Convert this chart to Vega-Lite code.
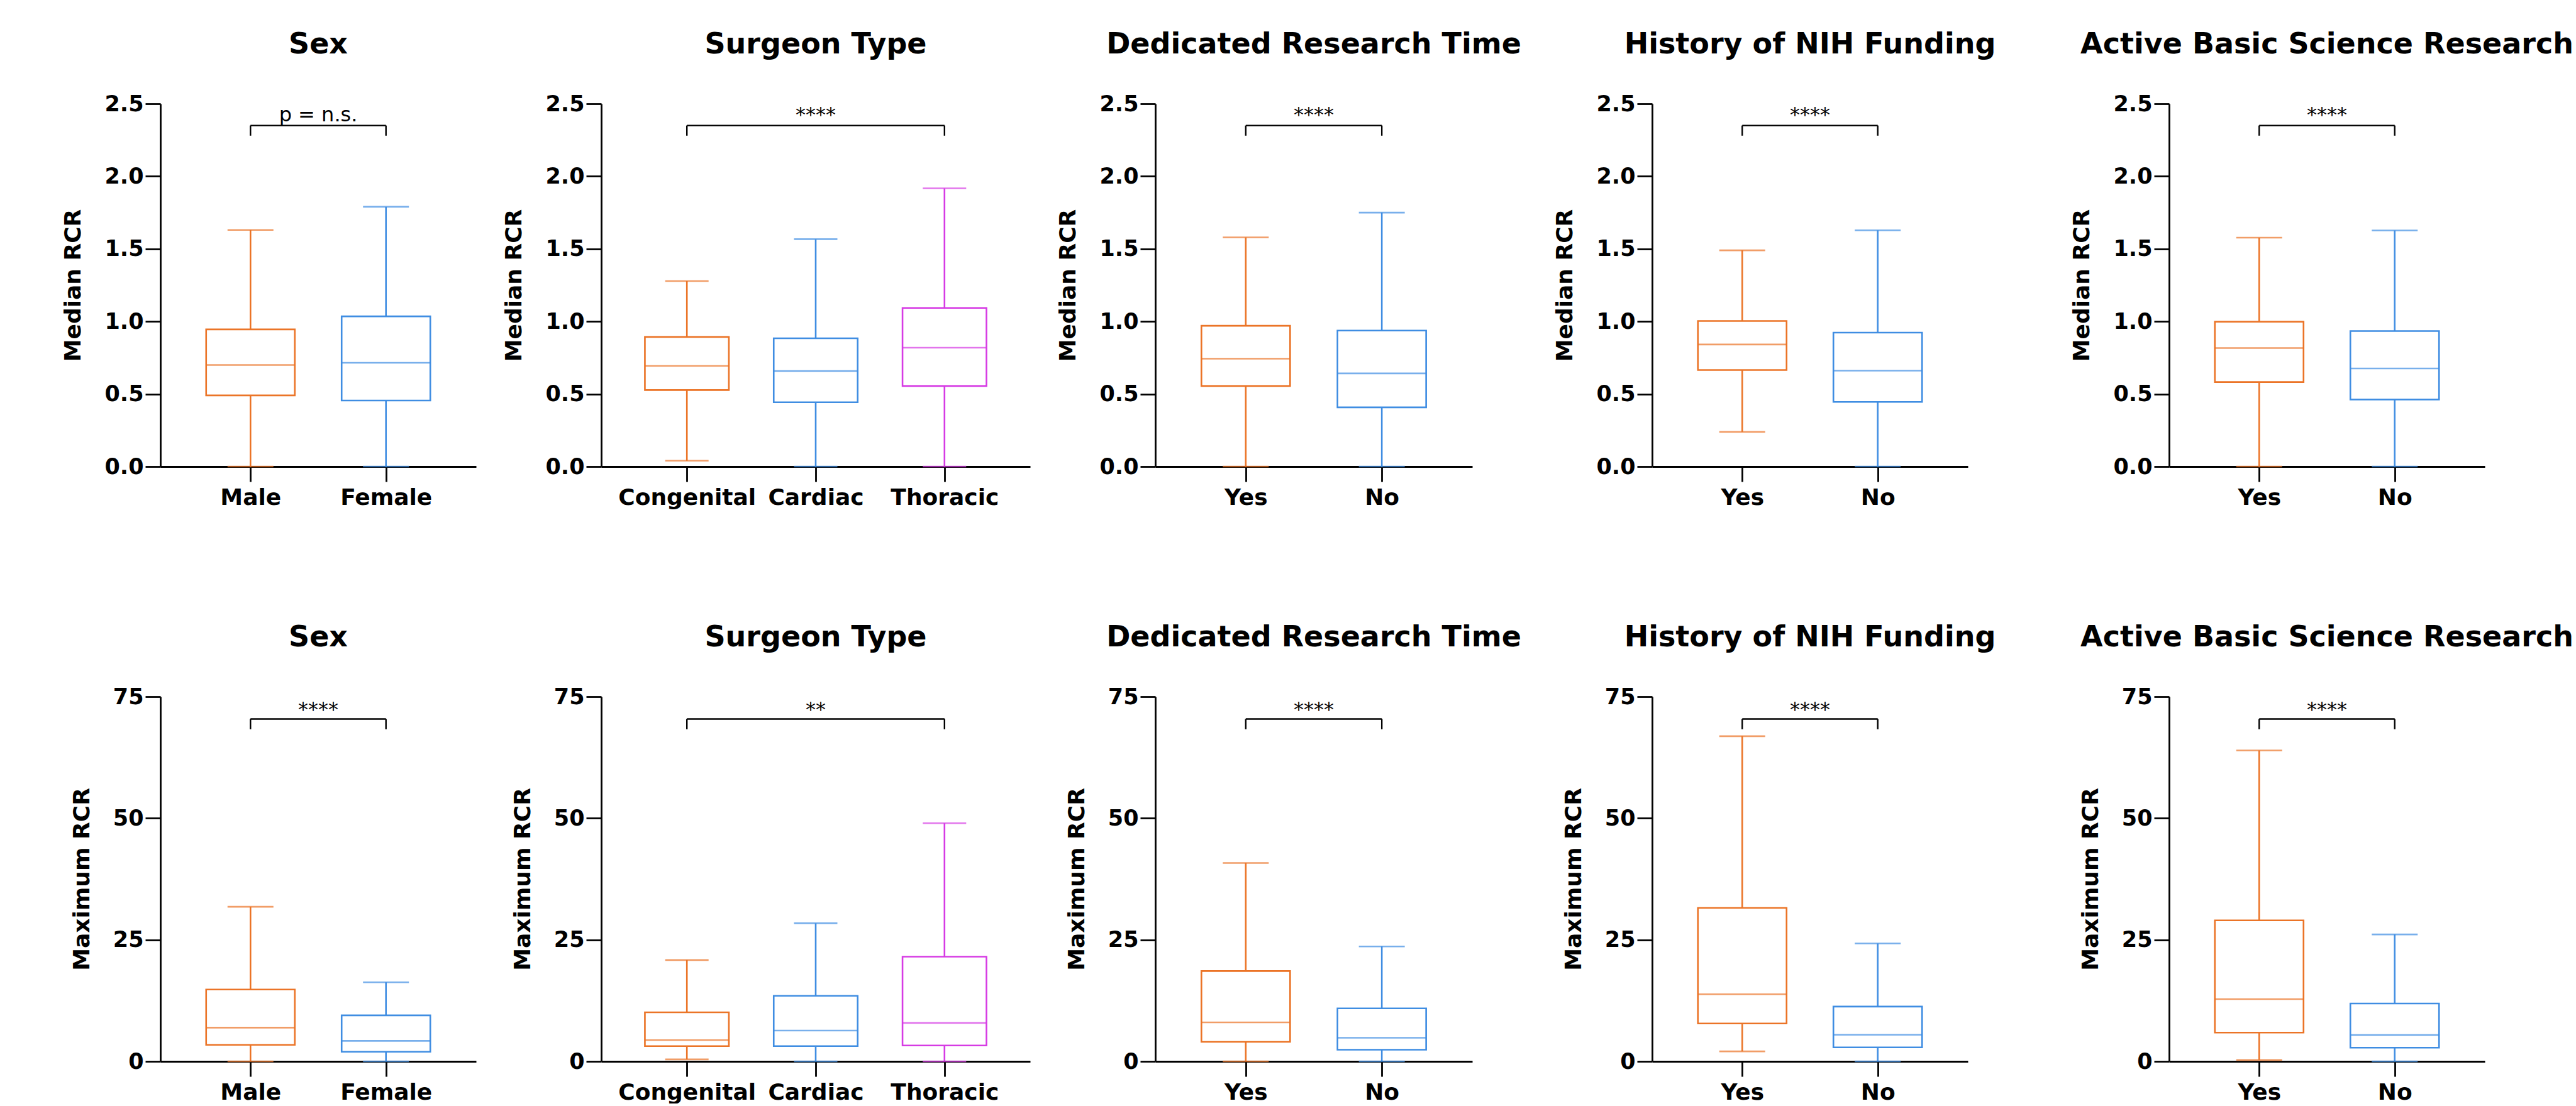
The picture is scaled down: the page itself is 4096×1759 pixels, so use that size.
{
"$schema": "https://vega.github.io/schema/vega-lite/v6.json",
"padding": {"left": 98, "top": 48, "right": 0, "bottom": 0},
"background": "white",
"datasets": {
"boxes": [
{"metric":"Median RCR","panel":"Sex","group":"Male","min":0,"q1":0.49,"med":0.70,"q3":0.945,"max":1.63},
{"metric":"Median RCR","panel":"Sex","group":"Female","min":0,"q1":0.455,"med":0.715,"q3":1.035,"max":1.79},
{"metric":"Median RCR","panel":"Surgeon Type","group":"Congenital","min":0.04,"q1":0.527,"med":0.693,"q3":0.893,"max":1.278},
{"metric":"Median RCR","panel":"Surgeon Type","group":"Cardiac","min":0,"q1":0.443,"med":0.658,"q3":0.884,"max":1.567},
{"metric":"Median RCR","panel":"Surgeon Type","group":"Thoracic","min":0,"q1":0.555,"med":0.819,"q3":1.093,"max":1.917},
{"metric":"Median RCR","panel":"Dedicated Research Time","group":"Yes","min":0,"q1":0.555,"med":0.743,"q3":0.97,"max":1.579},
{"metric":"Median RCR","panel":"Dedicated Research Time","group":"No","min":0,"q1":0.408,"med":0.642,"q3":0.937,"max":1.75},
{"metric":"Median RCR","panel":"History of NIH Funding","group":"Yes","min":0.239,"q1":0.665,"med":0.841,"q3":1.003,"max":1.49},
{"metric":"Median RCR","panel":"History of NIH Funding","group":"No","min":0,"q1":0.445,"med":0.661,"q3":0.923,"max":1.628},
{"metric":"Median RCR","panel":"Active Basic Science Research","group":"Yes","min":0,"q1":0.582,"med":0.817,"q3":0.998,"max":1.577},
{"metric":"Median RCR","panel":"Active Basic Science Research","group":"No","min":0,"q1":0.462,"med":0.676,"q3":0.934,"max":1.627},
{"metric":"Maximum RCR","panel":"Sex","group":"Male","min":0,"q1":3.4,"med":6.94,"q3":14.77,"max":31.8},
{"metric":"Maximum RCR","panel":"Sex","group":"Female","min":0,"q1":1.97,"med":4.22,"q3":9.46,"max":16.27},
{"metric":"Maximum RCR","panel":"Surgeon Type","group":"Congenital","min":0.41,"q1":3.13,"med":4.36,"q3":10.08,"max":20.84},
{"metric":"Maximum RCR","panel":"Surgeon Type","group":"Cardiac","min":0,"q1":3.13,"med":6.34,"q3":13.49,"max":28.4},
{"metric":"Maximum RCR","panel":"Surgeon Type","group":"Thoracic","min":0,"q1":3.27,"med":7.9,"q3":21.53,"max":48.98},
{"metric":"Maximum RCR","panel":"Dedicated Research Time","group":"Yes","min":0,"q1":4.01,"med":8.02,"q3":18.57,"max":40.8},
{"metric":"Maximum RCR","panel":"Dedicated Research Time","group":"No","min":0,"q1":2.39,"med":4.85,"q3":10.9,"max":23.64},
{"metric":"Maximum RCR","panel":"History of NIH Funding","group":"Yes","min":2.05,"q1":7.79,"med":13.8,"q3":31.56,"max":66.87},
{"metric":"Maximum RCR","panel":"History of NIH Funding","group":"No","min":0,"q1":2.87,"med":5.46,"q3":11.27,"max":24.25},
{"metric":"Maximum RCR","panel":"Active Basic Science Research","group":"Yes","min":0.28,"q1":5.91,"med":12.8,"q3":28.99,"max":63.95},
{"metric":"Maximum RCR","panel":"Active Basic Science Research","group":"No","min":0,"q1":2.81,"med":5.42,"q3":11.89,"max":26.1}
],
"brackets": [
{"metric":"Median RCR","panel":"Sex","from":"Male","to":"Female","label":"p = n.s."},
{"metric":"Median RCR","panel":"Surgeon Type","from":"Congenital","to":"Thoracic","label":"****"},
{"metric":"Median RCR","panel":"Dedicated Research Time","from":"Yes","to":"No","label":"****"},
{"metric":"Median RCR","panel":"History of NIH Funding","from":"Yes","to":"No","label":"****"},
{"metric":"Median RCR","panel":"Active Basic Science Research","from":"Yes","to":"No","label":"****"},
{"metric":"Maximum RCR","panel":"Sex","from":"Male","to":"Female","label":"****"},
{"metric":"Maximum RCR","panel":"Surgeon Type","from":"Congenital","to":"Thoracic","label":"**"},
{"metric":"Maximum RCR","panel":"Dedicated Research Time","from":"Yes","to":"No","label":"****"},
{"metric":"Maximum RCR","panel":"History of NIH Funding","from":"Yes","to":"No","label":"****"},
{"metric":"Maximum RCR","panel":"Active Basic Science Research","from":"Yes","to":"No","label":"****"}
]
},
"spacing": 51,
"resolve": {"scale": {"x": "independent", "y": "independent", "color": "independent"}},
"hconcat": [
{"spacing": 42, "resolve": {"scale": {"x": "independent", "y": "independent", "color": "independent"}},
 "hconcat": [
  {"spacing": 182, "resolve": {"scale": {"x": "independent", "y": "independent", "color": "independent"}},
   "vconcat": [
    {"title":"Sex","width":502,"height":577,"layer":[
     {"data":{"name":"boxes"},"transform":[{"filter":"datum.metric === 'Median RCR' && datum.panel === 'Sex'"}],
      "encoding":{"x":{"field":"group","type":"nominal","title":null,"scale":{"type":"point","padding":0.665,"domain":["Male","Female"]}},
       "color":{"field":"group","type":"nominal","legend":null,"scale":{"domain":["Male","Female"],"range":["#EB7427","#3F8DE2"]}}},
      "layer":[
       {"mark":{"type":"rule","strokeWidth":2.6},"encoding":{"y":{"field":"min","type":"quantitative","title":"Median RCR","scale":{"domain":[0,2.5],"nice":false},"axis":{"values":[0,0.5,1,1.5,2,2.5],"format":".1f"}},"y2":{"field":"q1"}}},
       {"mark":{"type":"rule","strokeWidth":2.6},"encoding":{"y":{"field":"q3","type":"quantitative","title":"Median RCR"},"y2":{"field":"max"}}},
       {"mark":{"type":"bar","filled":false,"width":141,"strokeWidth":2.6},"encoding":{"y":{"field":"q1","type":"quantitative","title":"Median RCR"},"y2":{"field":"q3"}}},
       {"mark":{"type":"tick","size":141,"thickness":2.6},"encoding":{"y":{"field":"med","type":"quantitative","title":"Median RCR"}}},
       {"mark":{"type":"tick","size":73,"thickness":2.6},"encoding":{"y":{"field":"min","type":"quantitative","title":"Median RCR"}}},
       {"mark":{"type":"tick","size":73,"thickness":2.6},"encoding":{"y":{"field":"max","type":"quantitative","title":"Median RCR"}}}
      ]},
     {"data":{"name":"brackets"},"transform":[{"filter":"datum.metric === 'Median RCR' && datum.panel === 'Sex'"}],
      "layer":[
       {"mark":{"type":"rule","color":"#000","strokeWidth":2.4},"encoding":{"x":{"field":"from","type":"nominal","title":null},"x2":{"field":"to"},"y":{"datum":2.35,"type":"quantitative"}}},
       {"mark":{"type":"rule","color":"#000","strokeWidth":2.4},"encoding":{"x":{"field":"from","type":"nominal","title":null},"y":{"datum":2.35,"type":"quantitative"},"y2":{"datum":2.28}}},
       {"mark":{"type":"rule","color":"#000","strokeWidth":2.4},"encoding":{"x":{"field":"to","type":"nominal","title":null},"y":{"datum":2.35,"type":"quantitative"},"y2":{"datum":2.28}}},
       {"mark":{"type":"text","fontSize":32,"color":"#000","baseline":"middle"},"encoding":{"text":{"field":"label"},"y":{"datum":2.42,"type":"quantitative"}}}
      ]}
    ]},
    {"title":"Sex","width":502,"height":580,"layer":[
     {"data":{"name":"boxes"},"transform":[{"filter":"datum.metric === 'Maximum RCR' && datum.panel === 'Sex'"}],
      "encoding":{"x":{"field":"group","type":"nominal","title":null,"scale":{"type":"point","padding":0.665,"domain":["Male","Female"]}},
       "color":{"field":"group","type":"nominal","legend":null,"scale":{"domain":["Male","Female"],"range":["#EB7427","#3F8DE2"]}}},
      "layer":[
       {"mark":{"type":"rule","strokeWidth":2.6},"encoding":{"y":{"field":"min","type":"quantitative","title":"Maximum RCR","scale":{"domain":[0,75],"nice":false},"axis":{"values":[0,25,50,75],"format":"d"}},"y2":{"field":"q1"}}},
       {"mark":{"type":"rule","strokeWidth":2.6},"encoding":{"y":{"field":"q3","type":"quantitative","title":"Maximum RCR"},"y2":{"field":"max"}}},
       {"mark":{"type":"bar","filled":false,"width":141,"strokeWidth":2.6},"encoding":{"y":{"field":"q1","type":"quantitative","title":"Maximum RCR"},"y2":{"field":"q3"}}},
       {"mark":{"type":"tick","size":141,"thickness":2.6},"encoding":{"y":{"field":"med","type":"quantitative","title":"Maximum RCR"}}},
       {"mark":{"type":"tick","size":73,"thickness":2.6},"encoding":{"y":{"field":"min","type":"quantitative","title":"Maximum RCR"}}},
       {"mark":{"type":"tick","size":73,"thickness":2.6},"encoding":{"y":{"field":"max","type":"quantitative","title":"Maximum RCR"}}}
      ]},
     {"data":{"name":"brackets"},"transform":[{"filter":"datum.metric === 'Maximum RCR' && datum.panel === 'Sex'"}],
      "layer":[
       {"mark":{"type":"rule","color":"#000","strokeWidth":2.4},"encoding":{"x":{"field":"from","type":"nominal","title":null},"x2":{"field":"to"},"y":{"datum":70.4,"type":"quantitative"}}},
       {"mark":{"type":"rule","color":"#000","strokeWidth":2.4},"encoding":{"x":{"field":"from","type":"nominal","title":null},"y":{"datum":70.4,"type":"quantitative"},"y2":{"datum":68.3}}},
       {"mark":{"type":"rule","color":"#000","strokeWidth":2.4},"encoding":{"x":{"field":"to","type":"nominal","title":null},"y":{"datum":70.4,"type":"quantitative"},"y2":{"datum":68.3}}},
       {"mark":{"type":"text","fontSize":32,"color":"#000","baseline":"middle"},"encoding":{"text":{"field":"label"},"y":{"datum":72.3,"type":"quantitative"}}}
      ]}
    ]}
   ]},
  {"spacing": 182, "resolve": {"scale": {"x": "independent", "y": "independent", "color": "independent"}},
   "vconcat": [
    {"title":"Surgeon Type","width":682,"height":577,"layer":[
     {"data":{"name":"boxes"},"transform":[{"filter":"datum.metric === 'Median RCR' && datum.panel === 'Surgeon Type'"}],
      "encoding":{"x":{"field":"group","type":"nominal","title":null,"scale":{"type":"point","padding":0.665,"domain":["Congenital","Cardiac","Thoracic"]}},
       "color":{"field":"group","type":"nominal","legend":null,"scale":{"domain":["Congenital","Cardiac","Thoracic"],"range":["#EB7427","#3F8DE2","#D63BE4"]}}},
      "layer":[
       {"mark":{"type":"rule","strokeWidth":2.6},"encoding":{"y":{"field":"min","type":"quantitative","title":"Median RCR","scale":{"domain":[0,2.5],"nice":false},"axis":{"values":[0,0.5,1,1.5,2,2.5],"format":".1f"}},"y2":{"field":"q1"}}},
       {"mark":{"type":"rule","strokeWidth":2.6},"encoding":{"y":{"field":"q3","type":"quantitative","title":"Median RCR"},"y2":{"field":"max"}}},
       {"mark":{"type":"bar","filled":false,"width":133.5,"strokeWidth":2.6},"encoding":{"y":{"field":"q1","type":"quantitative","title":"Median RCR"},"y2":{"field":"q3"}}},
       {"mark":{"type":"tick","size":133.5,"thickness":2.6},"encoding":{"y":{"field":"med","type":"quantitative","title":"Median RCR"}}},
       {"mark":{"type":"tick","size":69,"thickness":2.6},"encoding":{"y":{"field":"min","type":"quantitative","title":"Median RCR"}}},
       {"mark":{"type":"tick","size":69,"thickness":2.6},"encoding":{"y":{"field":"max","type":"quantitative","title":"Median RCR"}}}
      ]},
     {"data":{"name":"brackets"},"transform":[{"filter":"datum.metric === 'Median RCR' && datum.panel === 'Surgeon Type'"}],
      "layer":[
       {"mark":{"type":"rule","color":"#000","strokeWidth":2.4},"encoding":{"x":{"field":"from","type":"nominal","title":null},"x2":{"field":"to"},"y":{"datum":2.35,"type":"quantitative"}}},
       {"mark":{"type":"rule","color":"#000","strokeWidth":2.4},"encoding":{"x":{"field":"from","type":"nominal","title":null},"y":{"datum":2.35,"type":"quantitative"},"y2":{"datum":2.28}}},
       {"mark":{"type":"rule","color":"#000","strokeWidth":2.4},"encoding":{"x":{"field":"to","type":"nominal","title":null},"y":{"datum":2.35,"type":"quantitative"},"y2":{"datum":2.28}}},
       {"mark":{"type":"text","fontSize":32,"color":"#000","baseline":"middle"},"encoding":{"text":{"field":"label"},"y":{"datum":2.42,"type":"quantitative"}}}
      ]}
    ]},
    {"title":"Surgeon Type","width":682,"height":580,"layer":[
     {"data":{"name":"boxes"},"transform":[{"filter":"datum.metric === 'Maximum RCR' && datum.panel === 'Surgeon Type'"}],
      "encoding":{"x":{"field":"group","type":"nominal","title":null,"scale":{"type":"point","padding":0.665,"domain":["Congenital","Cardiac","Thoracic"]}},
       "color":{"field":"group","type":"nominal","legend":null,"scale":{"domain":["Congenital","Cardiac","Thoracic"],"range":["#EB7427","#3F8DE2","#D63BE4"]}}},
      "layer":[
       {"mark":{"type":"rule","strokeWidth":2.6},"encoding":{"y":{"field":"min","type":"quantitative","title":"Maximum RCR","scale":{"domain":[0,75],"nice":false},"axis":{"values":[0,25,50,75],"format":"d"}},"y2":{"field":"q1"}}},
       {"mark":{"type":"rule","strokeWidth":2.6},"encoding":{"y":{"field":"q3","type":"quantitative","title":"Maximum RCR"},"y2":{"field":"max"}}},
       {"mark":{"type":"bar","filled":false,"width":133.5,"strokeWidth":2.6},"encoding":{"y":{"field":"q1","type":"quantitative","title":"Maximum RCR"},"y2":{"field":"q3"}}},
       {"mark":{"type":"tick","size":133.5,"thickness":2.6},"encoding":{"y":{"field":"med","type":"quantitative","title":"Maximum RCR"}}},
       {"mark":{"type":"tick","size":69,"thickness":2.6},"encoding":{"y":{"field":"min","type":"quantitative","title":"Maximum RCR"}}},
       {"mark":{"type":"tick","size":69,"thickness":2.6},"encoding":{"y":{"field":"max","type":"quantitative","title":"Maximum RCR"}}}
      ]},
     {"data":{"name":"brackets"},"transform":[{"filter":"datum.metric === 'Maximum RCR' && datum.panel === 'Surgeon Type'"}],
      "layer":[
       {"mark":{"type":"rule","color":"#000","strokeWidth":2.4},"encoding":{"x":{"field":"from","type":"nominal","title":null},"x2":{"field":"to"},"y":{"datum":70.4,"type":"quantitative"}}},
       {"mark":{"type":"rule","color":"#000","strokeWidth":2.4},"encoding":{"x":{"field":"from","type":"nominal","title":null},"y":{"datum":70.4,"type":"quantitative"},"y2":{"datum":68.3}}},
       {"mark":{"type":"rule","color":"#000","strokeWidth":2.4},"encoding":{"x":{"field":"to","type":"nominal","title":null},"y":{"datum":70.4,"type":"quantitative"},"y2":{"datum":68.3}}},
       {"mark":{"type":"text","fontSize":32,"color":"#000","baseline":"middle"},"encoding":{"text":{"field":"label"},"y":{"datum":72.3,"type":"quantitative"}}}
      ]}
    ]}
   ]},
  {"spacing": 182, "resolve": {"scale": {"x": "independent", "y": "independent", "color": "independent"}},
   "vconcat": [
    {"title":"Dedicated Research Time","width":504,"height":577,"layer":[
     {"data":{"name":"boxes"},"transform":[{"filter":"datum.metric === 'Median RCR' && datum.panel === 'Dedicated Research Time'"}],
      "encoding":{"x":{"field":"group","type":"nominal","title":null,"scale":{"type":"point","padding":0.665,"domain":["Yes","No"]}},
       "color":{"field":"group","type":"nominal","legend":null,"scale":{"domain":["Yes","No"],"range":["#EB7427","#3F8DE2"]}}},
      "layer":[
       {"mark":{"type":"rule","strokeWidth":2.6},"encoding":{"y":{"field":"min","type":"quantitative","title":"Median RCR","scale":{"domain":[0,2.5],"nice":false},"axis":{"values":[0,0.5,1,1.5,2,2.5],"format":".1f"}},"y2":{"field":"q1"}}},
       {"mark":{"type":"rule","strokeWidth":2.6},"encoding":{"y":{"field":"q3","type":"quantitative","title":"Median RCR"},"y2":{"field":"max"}}},
       {"mark":{"type":"bar","filled":false,"width":141,"strokeWidth":2.6},"encoding":{"y":{"field":"q1","type":"quantitative","title":"Median RCR"},"y2":{"field":"q3"}}},
       {"mark":{"type":"tick","size":141,"thickness":2.6},"encoding":{"y":{"field":"med","type":"quantitative","title":"Median RCR"}}},
       {"mark":{"type":"tick","size":73,"thickness":2.6},"encoding":{"y":{"field":"min","type":"quantitative","title":"Median RCR"}}},
       {"mark":{"type":"tick","size":73,"thickness":2.6},"encoding":{"y":{"field":"max","type":"quantitative","title":"Median RCR"}}}
      ]},
     {"data":{"name":"brackets"},"transform":[{"filter":"datum.metric === 'Median RCR' && datum.panel === 'Dedicated Research Time'"}],
      "layer":[
       {"mark":{"type":"rule","color":"#000","strokeWidth":2.4},"encoding":{"x":{"field":"from","type":"nominal","title":null},"x2":{"field":"to"},"y":{"datum":2.35,"type":"quantitative"}}},
       {"mark":{"type":"rule","color":"#000","strokeWidth":2.4},"encoding":{"x":{"field":"from","type":"nominal","title":null},"y":{"datum":2.35,"type":"quantitative"},"y2":{"datum":2.28}}},
       {"mark":{"type":"rule","color":"#000","strokeWidth":2.4},"encoding":{"x":{"field":"to","type":"nominal","title":null},"y":{"datum":2.35,"type":"quantitative"},"y2":{"datum":2.28}}},
       {"mark":{"type":"text","fontSize":32,"color":"#000","baseline":"middle"},"encoding":{"text":{"field":"label"},"y":{"datum":2.42,"type":"quantitative"}}}
      ]}
    ]},
    {"title":"Dedicated Research Time","width":504,"height":580,"layer":[
     {"data":{"name":"boxes"},"transform":[{"filter":"datum.metric === 'Maximum RCR' && datum.panel === 'Dedicated Research Time'"}],
      "encoding":{"x":{"field":"group","type":"nominal","title":null,"scale":{"type":"point","padding":0.665,"domain":["Yes","No"]}},
       "color":{"field":"group","type":"nominal","legend":null,"scale":{"domain":["Yes","No"],"range":["#EB7427","#3F8DE2"]}}},
      "layer":[
       {"mark":{"type":"rule","strokeWidth":2.6},"encoding":{"y":{"field":"min","type":"quantitative","title":"Maximum RCR","scale":{"domain":[0,75],"nice":false},"axis":{"values":[0,25,50,75],"format":"d"}},"y2":{"field":"q1"}}},
       {"mark":{"type":"rule","strokeWidth":2.6},"encoding":{"y":{"field":"q3","type":"quantitative","title":"Maximum RCR"},"y2":{"field":"max"}}},
       {"mark":{"type":"bar","filled":false,"width":141,"strokeWidth":2.6},"encoding":{"y":{"field":"q1","type":"quantitative","title":"Maximum RCR"},"y2":{"field":"q3"}}},
       {"mark":{"type":"tick","size":141,"thickness":2.6},"encoding":{"y":{"field":"med","type":"quantitative","title":"Maximum RCR"}}},
       {"mark":{"type":"tick","size":73,"thickness":2.6},"encoding":{"y":{"field":"min","type":"quantitative","title":"Maximum RCR"}}},
       {"mark":{"type":"tick","size":73,"thickness":2.6},"encoding":{"y":{"field":"max","type":"quantitative","title":"Maximum RCR"}}}
      ]},
     {"data":{"name":"brackets"},"transform":[{"filter":"datum.metric === 'Maximum RCR' && datum.panel === 'Dedicated Research Time'"}],
      "layer":[
       {"mark":{"type":"rule","color":"#000","strokeWidth":2.4},"encoding":{"x":{"field":"from","type":"nominal","title":null},"x2":{"field":"to"},"y":{"datum":70.4,"type":"quantitative"}}},
       {"mark":{"type":"rule","color":"#000","strokeWidth":2.4},"encoding":{"x":{"field":"from","type":"nominal","title":null},"y":{"datum":70.4,"type":"quantitative"},"y2":{"datum":68.3}}},
       {"mark":{"type":"rule","color":"#000","strokeWidth":2.4},"encoding":{"x":{"field":"to","type":"nominal","title":null},"y":{"datum":70.4,"type":"quantitative"},"y2":{"datum":68.3}}},
       {"mark":{"type":"text","fontSize":32,"color":"#000","baseline":"middle"},"encoding":{"text":{"field":"label"},"y":{"datum":72.3,"type":"quantitative"}}}
      ]}
    ]}
   ]}
 ]},
{"spacing": 118, "resolve": {"scale": {"x": "independent", "y": "independent", "color": "independent"}},
 "hconcat": [
  {"spacing": 182, "resolve": {"scale": {"x": "independent", "y": "independent", "color": "independent"}},
   "vconcat": [
    {"title":"History of NIH Funding","width":502,"height":577,"layer":[
     {"data":{"name":"boxes"},"transform":[{"filter":"datum.metric === 'Median RCR' && datum.panel === 'History of NIH Funding'"}],
      "encoding":{"x":{"field":"group","type":"nominal","title":null,"scale":{"type":"point","padding":0.665,"domain":["Yes","No"]}},
       "color":{"field":"group","type":"nominal","legend":null,"scale":{"domain":["Yes","No"],"range":["#EB7427","#3F8DE2"]}}},
      "layer":[
       {"mark":{"type":"rule","strokeWidth":2.6},"encoding":{"y":{"field":"min","type":"quantitative","title":"Median RCR","scale":{"domain":[0,2.5],"nice":false},"axis":{"values":[0,0.5,1,1.5,2,2.5],"format":".1f"}},"y2":{"field":"q1"}}},
       {"mark":{"type":"rule","strokeWidth":2.6},"encoding":{"y":{"field":"q3","type":"quantitative","title":"Median RCR"},"y2":{"field":"max"}}},
       {"mark":{"type":"bar","filled":false,"width":141,"strokeWidth":2.6},"encoding":{"y":{"field":"q1","type":"quantitative","title":"Median RCR"},"y2":{"field":"q3"}}},
       {"mark":{"type":"tick","size":141,"thickness":2.6},"encoding":{"y":{"field":"med","type":"quantitative","title":"Median RCR"}}},
       {"mark":{"type":"tick","size":73,"thickness":2.6},"encoding":{"y":{"field":"min","type":"quantitative","title":"Median RCR"}}},
       {"mark":{"type":"tick","size":73,"thickness":2.6},"encoding":{"y":{"field":"max","type":"quantitative","title":"Median RCR"}}}
      ]},
     {"data":{"name":"brackets"},"transform":[{"filter":"datum.metric === 'Median RCR' && datum.panel === 'History of NIH Funding'"}],
      "layer":[
       {"mark":{"type":"rule","color":"#000","strokeWidth":2.4},"encoding":{"x":{"field":"from","type":"nominal","title":null},"x2":{"field":"to"},"y":{"datum":2.35,"type":"quantitative"}}},
       {"mark":{"type":"rule","color":"#000","strokeWidth":2.4},"encoding":{"x":{"field":"from","type":"nominal","title":null},"y":{"datum":2.35,"type":"quantitative"},"y2":{"datum":2.28}}},
       {"mark":{"type":"rule","color":"#000","strokeWidth":2.4},"encoding":{"x":{"field":"to","type":"nominal","title":null},"y":{"datum":2.35,"type":"quantitative"},"y2":{"datum":2.28}}},
       {"mark":{"type":"text","fontSize":32,"color":"#000","baseline":"middle"},"encoding":{"text":{"field":"label"},"y":{"datum":2.42,"type":"quantitative"}}}
      ]}
    ]},
    {"title":"History of NIH Funding","width":502,"height":580,"layer":[
     {"data":{"name":"boxes"},"transform":[{"filter":"datum.metric === 'Maximum RCR' && datum.panel === 'History of NIH Funding'"}],
      "encoding":{"x":{"field":"group","type":"nominal","title":null,"scale":{"type":"point","padding":0.665,"domain":["Yes","No"]}},
       "color":{"field":"group","type":"nominal","legend":null,"scale":{"domain":["Yes","No"],"range":["#EB7427","#3F8DE2"]}}},
      "layer":[
       {"mark":{"type":"rule","strokeWidth":2.6},"encoding":{"y":{"field":"min","type":"quantitative","title":"Maximum RCR","scale":{"domain":[0,75],"nice":false},"axis":{"values":[0,25,50,75],"format":"d"}},"y2":{"field":"q1"}}},
       {"mark":{"type":"rule","strokeWidth":2.6},"encoding":{"y":{"field":"q3","type":"quantitative","title":"Maximum RCR"},"y2":{"field":"max"}}},
       {"mark":{"type":"bar","filled":false,"width":141,"strokeWidth":2.6},"encoding":{"y":{"field":"q1","type":"quantitative","title":"Maximum RCR"},"y2":{"field":"q3"}}},
       {"mark":{"type":"tick","size":141,"thickness":2.6},"encoding":{"y":{"field":"med","type":"quantitative","title":"Maximum RCR"}}},
       {"mark":{"type":"tick","size":73,"thickness":2.6},"encoding":{"y":{"field":"min","type":"quantitative","title":"Maximum RCR"}}},
       {"mark":{"type":"tick","size":73,"thickness":2.6},"encoding":{"y":{"field":"max","type":"quantitative","title":"Maximum RCR"}}}
      ]},
     {"data":{"name":"brackets"},"transform":[{"filter":"datum.metric === 'Maximum RCR' && datum.panel === 'History of NIH Funding'"}],
      "layer":[
       {"mark":{"type":"rule","color":"#000","strokeWidth":2.4},"encoding":{"x":{"field":"from","type":"nominal","title":null},"x2":{"field":"to"},"y":{"datum":70.4,"type":"quantitative"}}},
       {"mark":{"type":"rule","color":"#000","strokeWidth":2.4},"encoding":{"x":{"field":"from","type":"nominal","title":null},"y":{"datum":70.4,"type":"quantitative"},"y2":{"datum":68.3}}},
       {"mark":{"type":"rule","color":"#000","strokeWidth":2.4},"encoding":{"x":{"field":"to","type":"nominal","title":null},"y":{"datum":70.4,"type":"quantitative"},"y2":{"datum":68.3}}},
       {"mark":{"type":"text","fontSize":32,"color":"#000","baseline":"middle"},"encoding":{"text":{"field":"label"},"y":{"datum":72.3,"type":"quantitative"}}}
      ]}
    ]}
   ]},
  {"spacing": 182, "resolve": {"scale": {"x": "independent", "y": "independent", "color": "independent"}},
   "vconcat": [
    {"title":"Active Basic Science Research","width":502,"height":577,"layer":[
     {"data":{"name":"boxes"},"transform":[{"filter":"datum.metric === 'Median RCR' && datum.panel === 'Active Basic Science Research'"}],
      "encoding":{"x":{"field":"group","type":"nominal","title":null,"scale":{"type":"point","padding":0.665,"domain":["Yes","No"]}},
       "color":{"field":"group","type":"nominal","legend":null,"scale":{"domain":["Yes","No"],"range":["#EB7427","#3F8DE2"]}}},
      "layer":[
       {"mark":{"type":"rule","strokeWidth":2.6},"encoding":{"y":{"field":"min","type":"quantitative","title":"Median RCR","scale":{"domain":[0,2.5],"nice":false},"axis":{"values":[0,0.5,1,1.5,2,2.5],"format":".1f"}},"y2":{"field":"q1"}}},
       {"mark":{"type":"rule","strokeWidth":2.6},"encoding":{"y":{"field":"q3","type":"quantitative","title":"Median RCR"},"y2":{"field":"max"}}},
       {"mark":{"type":"bar","filled":false,"width":141,"strokeWidth":2.6},"encoding":{"y":{"field":"q1","type":"quantitative","title":"Median RCR"},"y2":{"field":"q3"}}},
       {"mark":{"type":"tick","size":141,"thickness":2.6},"encoding":{"y":{"field":"med","type":"quantitative","title":"Median RCR"}}},
       {"mark":{"type":"tick","size":73,"thickness":2.6},"encoding":{"y":{"field":"min","type":"quantitative","title":"Median RCR"}}},
       {"mark":{"type":"tick","size":73,"thickness":2.6},"encoding":{"y":{"field":"max","type":"quantitative","title":"Median RCR"}}}
      ]},
     {"data":{"name":"brackets"},"transform":[{"filter":"datum.metric === 'Median RCR' && datum.panel === 'Active Basic Science Research'"}],
      "layer":[
       {"mark":{"type":"rule","color":"#000","strokeWidth":2.4},"encoding":{"x":{"field":"from","type":"nominal","title":null},"x2":{"field":"to"},"y":{"datum":2.35,"type":"quantitative"}}},
       {"mark":{"type":"rule","color":"#000","strokeWidth":2.4},"encoding":{"x":{"field":"from","type":"nominal","title":null},"y":{"datum":2.35,"type":"quantitative"},"y2":{"datum":2.28}}},
       {"mark":{"type":"rule","color":"#000","strokeWidth":2.4},"encoding":{"x":{"field":"to","type":"nominal","title":null},"y":{"datum":2.35,"type":"quantitative"},"y2":{"datum":2.28}}},
       {"mark":{"type":"text","fontSize":32,"color":"#000","baseline":"middle"},"encoding":{"text":{"field":"label"},"y":{"datum":2.42,"type":"quantitative"}}}
      ]}
    ]},
    {"title":"Active Basic Science Research","width":502,"height":580,"layer":[
     {"data":{"name":"boxes"},"transform":[{"filter":"datum.metric === 'Maximum RCR' && datum.panel === 'Active Basic Science Research'"}],
      "encoding":{"x":{"field":"group","type":"nominal","title":null,"scale":{"type":"point","padding":0.665,"domain":["Yes","No"]}},
       "color":{"field":"group","type":"nominal","legend":null,"scale":{"domain":["Yes","No"],"range":["#EB7427","#3F8DE2"]}}},
      "layer":[
       {"mark":{"type":"rule","strokeWidth":2.6},"encoding":{"y":{"field":"min","type":"quantitative","title":"Maximum RCR","scale":{"domain":[0,75],"nice":false},"axis":{"values":[0,25,50,75],"format":"d"}},"y2":{"field":"q1"}}},
       {"mark":{"type":"rule","strokeWidth":2.6},"encoding":{"y":{"field":"q3","type":"quantitative","title":"Maximum RCR"},"y2":{"field":"max"}}},
       {"mark":{"type":"bar","filled":false,"width":141,"strokeWidth":2.6},"encoding":{"y":{"field":"q1","type":"quantitative","title":"Maximum RCR"},"y2":{"field":"q3"}}},
       {"mark":{"type":"tick","size":141,"thickness":2.6},"encoding":{"y":{"field":"med","type":"quantitative","title":"Maximum RCR"}}},
       {"mark":{"type":"tick","size":73,"thickness":2.6},"encoding":{"y":{"field":"min","type":"quantitative","title":"Maximum RCR"}}},
       {"mark":{"type":"tick","size":73,"thickness":2.6},"encoding":{"y":{"field":"max","type":"quantitative","title":"Maximum RCR"}}}
      ]},
     {"data":{"name":"brackets"},"transform":[{"filter":"datum.metric === 'Maximum RCR' && datum.panel === 'Active Basic Science Research'"}],
      "layer":[
       {"mark":{"type":"rule","color":"#000","strokeWidth":2.4},"encoding":{"x":{"field":"from","type":"nominal","title":null},"x2":{"field":"to"},"y":{"datum":70.4,"type":"quantitative"}}},
       {"mark":{"type":"rule","color":"#000","strokeWidth":2.4},"encoding":{"x":{"field":"from","type":"nominal","title":null},"y":{"datum":70.4,"type":"quantitative"},"y2":{"datum":68.3}}},
       {"mark":{"type":"rule","color":"#000","strokeWidth":2.4},"encoding":{"x":{"field":"to","type":"nominal","title":null},"y":{"datum":70.4,"type":"quantitative"},"y2":{"datum":68.3}}},
       {"mark":{"type":"text","fontSize":32,"color":"#000","baseline":"middle"},"encoding":{"text":{"field":"label"},"y":{"datum":72.3,"type":"quantitative"}}}
      ]}
    ]}
   ]}
 ]}
],
"config": {
 "font": "DejaVu Sans",
 "view": {"stroke": null},
 "axis": {"domainColor": "#000", "domainWidth": 2.8, "tickColor": "#000", "tickWidth": 2.8, "tickSize": 24, "grid": false,
  "labelFont": "DejaVu Sans", "labelFontWeight": "bold", "labelColor": "#000", "labelLimit": 0,
  "titleFont": "DejaVu Sans", "titleFontWeight": "bold", "titleColor": "#000", "titleFontSize": 36},
 "axisX": {"labelFontSize": 36, "labelAngle": 0, "labelPadding": 8},
 "axisY": {"labelFontSize": 35, "labelPadding": 3, "titlePadding": 30, "labelOverlap": false},
 "title": {"font": "DejaVu Sans", "fontSize": 46, "fontWeight": "bold", "color": "#000", "anchor": "middle", "baseline": "alphabetic", "offset": 53}
}
}
